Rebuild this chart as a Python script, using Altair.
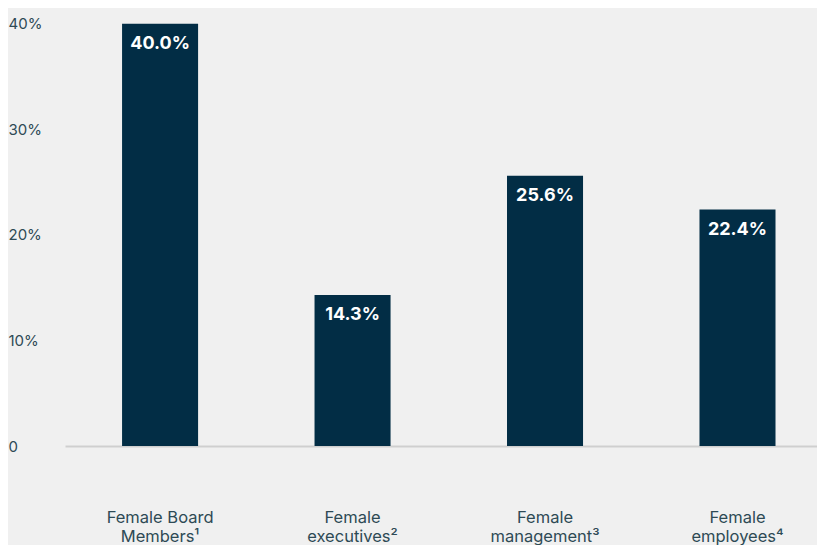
import altair as alt
import pandas as pd

categories = ["Female Board|Members¹", "Female|executives²", "Female|management³", "Female|employees⁴"]
values = [40.0, 14.3, 25.6, 22.4]
value_labels = ["40.0%", "14.3%", "25.6%", "22.4%"]
y_ticks = [0, 10, 20, 30, 40]

df = pd.DataFrame({"cat": categories, "val": values, "lab": value_labels})

FONT = "Inter"
TEXT = "#2e4a55"
BAR = "#022d45"

xscale = alt.Scale(paddingInner=0.605, paddingOuter=0.256, align=0.579)

x = alt.X("cat:N", sort=categories, scale=xscale,
          axis=alt.Axis(title=None, labelAngle=0, labelExpr="split(datum.label, '|')",
                        labelFont=FONT, labelFontSize=16.5, labelColor=TEXT,
                        labelLineHeight=19, labelPadding=63, ticks=False,
                        domainColor="#cfcfcf", domainWidth=2))

y = alt.Y("val:Q", scale=alt.Scale(domain=[0, 41.5], nice=False),
          axis=alt.Axis(title=None, values=y_ticks, grid=False, domain=False, ticks=False,
                        labelAlign="left", labelPadding=57, labelFont=FONT, labelFontSize=15,
                        labelColor=TEXT,
                        labelExpr="datum.value == 0 ? '0' : datum.value + '%'"))

bars = alt.Chart(df).mark_bar(color=BAR).encode(x=x, y=y)
text = alt.Chart(df).mark_text(color="white", font=FONT, fontSize=18, fontWeight="bold",
                               baseline="middle", dy=20).encode(
    x=alt.X("cat:N", sort=categories), y="val:Q", text="lab:N")

chart = (bars + text).properties(width=752, height=438, background="#f0f0f0",
                                  padding={"left": 0, "top": 0, "right": 0, "bottom": 0}).configure_view(stroke=None)

chart.save("out.html", embed_options={"renderer": "svg", "actions": False})
